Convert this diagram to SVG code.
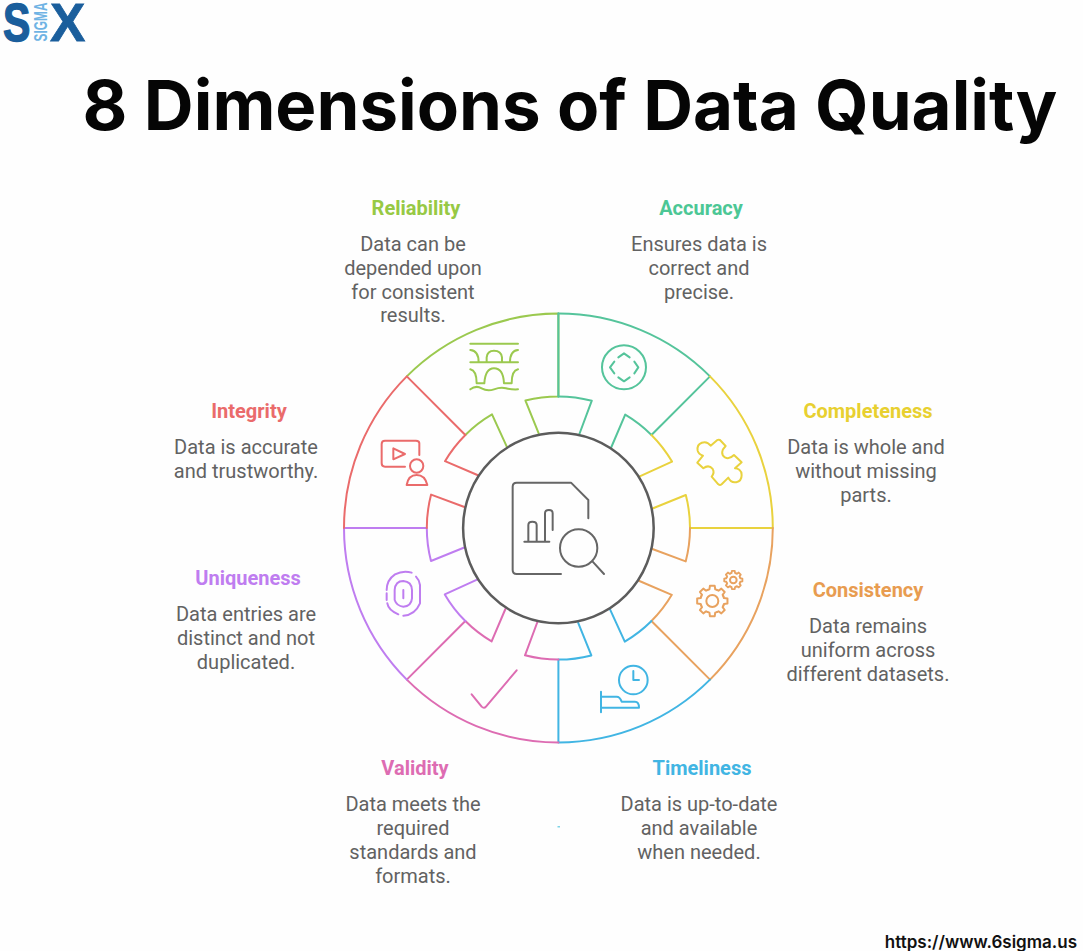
<svg xmlns="http://www.w3.org/2000/svg" width="1083" height="951" viewBox="0 0 1083 951">
<style>
.t{font-family:Roboto,"Liberation Sans",sans-serif;font-size:20px;font-weight:700;text-anchor:middle}
.d{font-family:Roboto,"Liberation Sans",sans-serif;font-size:20px;fill:#626262;text-anchor:middle}
.s{fill:none;stroke-width:2;stroke-linejoin:round;stroke-linecap:round}
.i{fill:none;stroke-width:6;stroke-linejoin:round;stroke-linecap:round}
</style>
<defs>
<path id="sector" d="M0 -214.4A214.4 214.4 0 0 1 151.6 -151.6L93.05 -93.05A131.6 131.6 0 0 0 66.8 -113.4L53 -81M21 -94L33.4 -127.3A131.6 131.6 0 0 0 0 -131.6"/>
<path id="tooth" d="M-13.78 -33.26L-8.71 -34.93L-7.2 -45.43H7.2L8.71 -34.93L13.78 -33.26"/>
<g id="gear">
<use href="#tooth"/><use href="#tooth" transform="rotate(45)"/><use href="#tooth" transform="rotate(90)"/><use href="#tooth" transform="rotate(135)"/><use href="#tooth" transform="rotate(180)"/><use href="#tooth" transform="rotate(225)"/><use href="#tooth" transform="rotate(270)"/><use href="#tooth" transform="rotate(315)"/>
</g>
</defs>
<rect width="1083" height="951" fill="#fefefe"/>
<g id="logo">
<text transform="translate(3 40.5) scale(.76 1)" font-family="Liberation Sans,sans-serif" font-weight="700" font-size="54" fill="#1a5e9c" stroke="#1a5e9c" stroke-width="1.5">S</text>
<text transform="translate(47 41.5) rotate(-90)" font-family="Liberation Sans,sans-serif" font-weight="700" font-size="18" fill="#6fb3e4" textLength="39" lengthAdjust="spacingAndGlyphs">SIGMA</text>
<text transform="translate(50 40.5) scale(.98 1)" font-family="Liberation Sans,sans-serif" font-weight="700" font-size="54" fill="#1a5e9c" stroke="#1a5e9c" stroke-width=".8">X</text>
</g>
<text id="title" x="570" y="130" font-family="Inter,Liberation Sans,sans-serif" font-weight="700" font-size="69" fill="#050505" text-anchor="middle">8 Dimensions of Data Quality</text>

<g id="reliability">
<use href="#sector" class="s" stroke="#9bc94f" transform="translate(558.4 528) rotate(315)"/>
<g class="i" stroke="#9bc94f" transform="translate(330 300) scale(.3333)">
<path d="M421 131H564M421 150Q446 152 446 187M421 187H564M564 150Q540 152 540 187M470 187V172Q472 152 492 152Q514 152 516 172V187M421 208Q440 212 440 250H463Q466 205 492 205Q520 205 522 250H545Q545 212 564 208M421 268Q438 255 455 265T492 268T528 265T564 268"/>
</g>
<text class="t" x="416" y="215" fill="#97c944">Reliability</text>
<text class="d" x="413" y="250.5">Data can be</text><text class="d" x="413" y="274.5">depended upon</text><text class="d" x="413" y="298.5">for consistent</text><text class="d" x="413" y="321.5">results.</text>
</g>
<g id="accuracy">
<use href="#sector" class="s" stroke="#55c49b" transform="translate(558.4 528)"/>
<path class="s" stroke="#55c49b" d="M558.4 313.6V396.4"/>
<g class="i" stroke="#55c49b" transform="translate(555 300) scale(.3333)">
<circle cx="207" cy="202" r="66"/>
<path d="M190 172L207 160L224 172M238 185L250 202L238 220M190 232L207 244L224 232M178 185L165 202L178 220"/>
</g>
<text class="t" x="701" y="215" fill="#4cc795">Accuracy</text>
<text class="d" x="699" y="250.5">Ensures data is</text><text class="d" x="699" y="274.5">correct and</text><text class="d" x="699" y="298.5">precise.</text>
</g>
<g id="completeness">
<use href="#sector" class="s" stroke="#e9d23e" transform="translate(558.4 528) rotate(45)"/>
<g class="i" stroke="#e9d23e" transform="translate(555 300) scale(.3333)">
<path d="M467 437C452 418 424 428 428 452C430 462 438 465 444 467L427 488L445 505C455 497 465 497 473 507C480 518 472 527 470 530L490 553Q495 557 500 553L520 533C530 555 560 550 560 525C560 510 548 505 540 505L560 487L537 465C530 472 520 478 510 472C497 463 500 450 512 438L495 420Q490 418 487 420Z"/>
</g>
<text class="t" x="868" y="418" fill="#e8d030">Completeness</text>
<text class="d" x="866" y="453.5">Data is whole and</text><text class="d" x="866" y="477.5">without missing</text><text class="d" x="866" y="501.5">parts.</text>
</g>
<g id="consistency">
<use href="#sector" class="s" stroke="#e8a25f" transform="translate(558.4 528) rotate(90)"/>
<g class="i" stroke="#e8a25f" transform="translate(555 525) scale(.3333)">
<circle cx="472" cy="228" r="18"/><use href="#gear" transform="translate(472 228)"/>
<circle cx="535" cy="165" r="10"/><use href="#gear" transform="translate(535 165) scale(.6)" stroke-width="9"/>
</g>
<text class="t" x="868" y="597" fill="#e89c50">Consistency</text>
<text class="d" x="868" y="632.5">Data remains</text><text class="d" x="868" y="656.5">uniform across</text><text class="d" x="868" y="680.5">different datasets.</text>
</g>
<g id="timeliness">
<use href="#sector" class="s" stroke="#41b5e3" transform="translate(558.4 528) rotate(135)"/>
<g class="i" stroke="#41b5e3" transform="translate(555 525) scale(.3333)">
<circle cx="235" cy="465" r="43"/>
<path d="M235 438V465H252M138 500V562M138 515H185Q195 515 200 530H240Q252 530 252 548H138"/>
</g>
<text class="t" x="702" y="775" fill="#41b5e3">Timeliness</text>
<text class="d" x="699" y="810.5">Data is up-to-date</text><text class="d" x="699" y="834.5">and available</text><text class="d" x="699" y="858.5">when needed.</text>
</g>
<g id="validity">
<use href="#sector" class="s" stroke="#dd6cb2" transform="translate(558.4 528) rotate(180)"/>
<g class="i" stroke="#dd6cb2" transform="translate(330 525) scale(.3333)">
<path d="M425 508L455 545Q462 552 468 545L560 436"/>
</g>
<text class="t" x="415" y="775" fill="#dd6cb2">Validity</text>
<text class="d" x="413" y="810.5">Data meets the</text><text class="d" x="413" y="834.5">required</text><text class="d" x="413" y="858.5">standards and</text><text class="d" x="413" y="882.5">formats.</text>
</g>
<g id="uniqueness">
<use href="#sector" class="s" stroke="#bf7df0" transform="translate(558.4 528) rotate(225)"/>
<g class="i" stroke="#bf7df0" transform="translate(330 525) scale(.3333)">
<path d="M245 143Q220 135 195 148Q170 165 170 195M170 205V225M172 235Q175 255 205 268M220 272Q255 270 270 235V180Q268 165 258 155M194 225V195Q196 168 220 168Q245 170 246 195V220Q244 243 220 245Q200 243 194 225M220 195V220"/>
</g>
<text class="t" x="248" y="585" fill="#bf7df0">Uniqueness</text>
<text class="d" x="246" y="620.5">Data entries are</text><text class="d" x="246" y="644.5">distinct and not</text><text class="d" x="246" y="668.5">duplicated.</text>
</g>
<g id="integrity">
<use href="#sector" class="s" stroke="#ea6b6b" transform="translate(558.4 528) rotate(270)"/>
<g class="i" stroke="#ea6b6b" transform="translate(330 300) scale(.3333)">
<path d="M268 465V430Q268 422 258 422H165Q155 422 155 432V490Q155 500 165 500H225M190 445V478L225 462ZM230 555Q235 525 260 525Q285 525 292 555Z"/>
<circle cx="260" cy="498" r="20"/>
</g>
<text class="t" x="249" y="418" fill="#ea6b6b">Integrity</text>
<text class="d" x="246" y="453.5">Data is accurate</text><text class="d" x="246" y="477.5">and trustworthy.</text>
</g>
<g id="center">
<circle cx="558.4" cy="528" r="95.3" fill="#fefefe" stroke="#5c5c5c" stroke-width="2.5"/>
<g class="i" stroke="#666" transform="translate(490 460) scale(.3333)">
<path d="M295 175V120L243 68H80Q68 68 68 80V330Q68 342 80 342H213M103 245H178M115 245V195Q115 185 127 185Q140 185 140 195V245M165 245V160Q165 150 177 150Q188 150 188 160V210M308 305L342 342"/>
<circle cx="266" cy="264" r="56"/>
</g>
</g>
<rect id="speck" x="557.5" y="826" width="2.5" height="1.5" fill="#7fd3e6"/>
<text id="url" x="1077" y="948" font-family="Inter,Liberation Sans,sans-serif" font-weight="600" font-size="17" fill="#111" text-anchor="end">https://www.6sigma.us</text>
</svg>
